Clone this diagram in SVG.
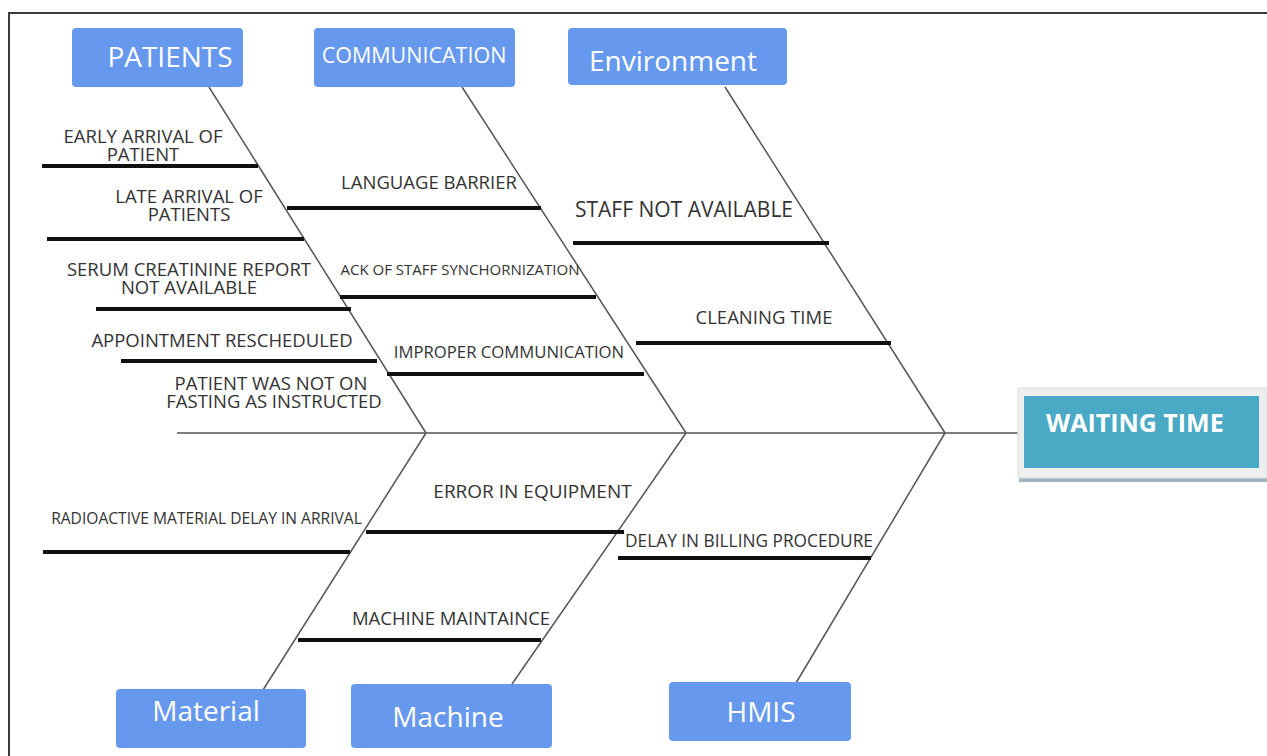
<svg xmlns="http://www.w3.org/2000/svg" width="1267" height="756" viewBox="0 0 1267 756">
  <defs>
    <style>
      .frame { stroke: #3a3a3a; stroke-width: 2; fill: none; }
      .bone { stroke: #555555; stroke-width: 1.5; fill: none; }
      .cause { stroke: #111111; stroke-width: 4; fill: none; }
      .cat { fill: #6699ee; }
      .cat-label { font-family: "Open Sans", "Noto Sans", sans-serif; fill: #ffffff; text-anchor: middle; font-size: 28px; }
      .label { font-family: "Open Sans", "Noto Sans", sans-serif; fill: #333333; font-size: 18.5px; text-anchor: middle; }
      .small { font-size: 15px; }
      .head-label { font-family: "Open Sans", "Noto Sans", sans-serif; font-weight: bold; fill: #ffffff; font-size: 25px; }
    </style>
  </defs>

  <rect width="1267" height="756" fill="#ffffff"/>

  <!-- page frame (top and left edges) -->
  <path class="frame" d="M9 756 V13 H1267"/>

  <!-- fishbone spine, ribs and cause lines -->
  <g id="connectors">
    <line class="bone" x1="177" y1="433" x2="1018" y2="433"/>
    <line class="bone" x1="209" y1="87" x2="426" y2="433"/>
    <line class="bone" x1="462" y1="87" x2="686" y2="433"/>
    <line class="bone" x1="725" y1="87" x2="945" y2="433"/>
    <line class="bone" x1="426" y1="433" x2="263" y2="690"/>
    <line class="bone" x1="686" y1="433" x2="512" y2="684"/>
    <line class="bone" x1="945" y1="433" x2="796" y2="683"/>

    <line class="cause" x1="42" y1="166" x2="258" y2="166"/>
    <line class="cause" x1="47" y1="239" x2="304" y2="239"/>
    <line class="cause" x1="96" y1="309" x2="351" y2="309"/>
    <line class="cause" x1="121" y1="361" x2="377" y2="361"/>

    <line class="cause" x1="287" y1="208" x2="541" y2="208"/>
    <line class="cause" x1="340" y1="297" x2="596" y2="297"/>
    <line class="cause" x1="387" y1="374" x2="644" y2="374"/>

    <line class="cause" x1="573" y1="243" x2="829" y2="243"/>
    <line class="cause" x1="636" y1="343" x2="891" y2="343"/>

    <line class="cause" x1="43" y1="552" x2="350" y2="552"/>

    <line class="cause" x1="366" y1="532" x2="624" y2="532"/>
    <line class="cause" x1="298" y1="640" x2="541" y2="640"/>

    <line class="cause" x1="618" y1="558" x2="871" y2="558"/>
  </g>

  <!-- category: PATIENTS -->
  <g id="patients">
    <rect class="cat" x="72" y="28" width="171" height="59" rx="4"/>
    <text class="cat-label" x="170" y="67">PATIENTS</text>
    <text class="label" x="143" y="143">EARLY ARRIVAL OF<tspan x="143" dy="18">PATIENT</tspan></text>
    <text class="label" x="189" y="203">LATE ARRIVAL OF<tspan x="189" dy="18">PATIENTS</tspan></text>
    <text class="label" x="189" y="276">SERUM CREATININE REPORT<tspan x="189" dy="18">NOT AVAILABLE</tspan></text>
    <text class="label" x="222" y="347">APPOINTMENT RESCHEDULED</text>
    <text class="label" x="271" y="390">PATIENT WAS NOT ON<tspan x="274" dy="18">FASTING AS INSTRUCTED</tspan></text>
  </g>

  <!-- category: COMMUNICATION -->
  <g id="communication">
    <rect class="cat" x="314" y="28" width="201" height="59" rx="4"/>
    <text class="cat-label" x="414" y="63" style="font-size:21.5px">COMMUNICATION</text>
    <text class="label" x="429" y="189">LANGUAGE BARRIER</text>
    <text class="label small" x="460" y="275">ACK OF STAFF SYNCHORNIZATION</text>
    <text class="label" x="509" y="358" style="font-size:16.7px">IMPROPER COMMUNICATION</text>
  </g>

  <!-- category: Environment -->
  <g id="environment">
    <rect class="cat" x="568" y="28" width="219" height="57" rx="4"/>
    <text class="cat-label" x="673" y="71">Environment</text>
    <text class="label" x="684" y="217" style="font-size:21px">STAFF NOT AVAILABLE</text>
    <text class="label" x="764" y="324">CLEANING TIME</text>
  </g>

  <!-- category: Material -->
  <g id="material">
    <rect class="cat" x="116" y="689" width="190" height="59" rx="4"/>
    <text class="cat-label" x="206" y="721">Material</text>
    <text class="label" x="206.5" y="524" style="font-size:15.6px">RADIOACTIVE MATERIAL DELAY IN ARRIVAL</text>
  </g>

  <!-- category: Machine -->
  <g id="machine">
    <rect class="cat" x="351" y="684" width="201" height="64" rx="4"/>
    <text class="cat-label" x="448" y="727">Machine</text>
    <text class="label" x="532.5" y="498" style="font-size:19px">ERROR IN EQUIPMENT</text>
    <text class="label" x="451" y="625">MACHINE MAINTAINCE</text>
  </g>

  <!-- category: HMIS -->
  <g id="hmis">
    <rect class="cat" x="669" y="682" width="182" height="59" rx="4"/>
    <text class="cat-label" x="761" y="722">HMIS</text>
    <text class="label" x="749" y="547" style="font-size:17.3px">DELAY IN BILLING PROCEDURE</text>
  </g>

  <!-- effect: WAITING TIME -->
  <g id="waiting-time">
    <rect x="1019" y="477" width="248" height="5" fill="#9ab5bf"/>
    <rect x="1018" y="388" width="249" height="90" fill="#eeeeee" stroke="#dddddd" stroke-width="1"/>
    <rect x="1024" y="396" width="235" height="72" fill="#4aaac6"/>
    <text class="head-label" x="1046" y="432">WAITING TIME</text>
  </g>
</svg>
